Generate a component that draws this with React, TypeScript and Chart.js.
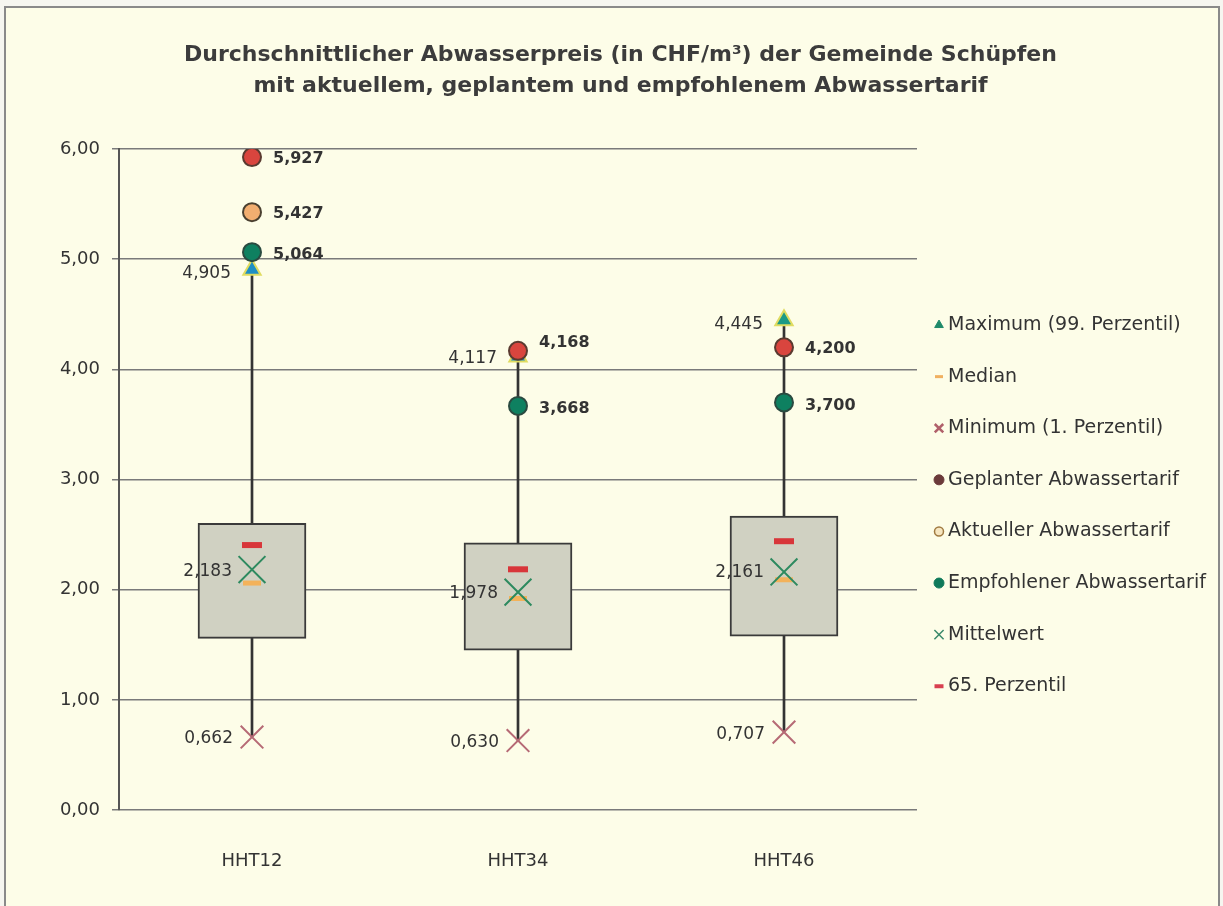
import React, { useEffect, useRef } from 'react';
import { Chart, registerables } from 'chart.js';
import { drawPoint } from 'chart.js/helpers';

Chart.register(...registerables);

// ---------- data ----------
const categories = ['HHT12', 'HHT34', 'HHT46'];
const boxLower = [1.558, 1.452, 1.579];
const boxUpper = [2.602, 2.426, 2.669];
const maximumValues = [4.905, 4.117, 4.445];
const minimumValues = [0.662, 0.63, 0.707];
const medianValues = [2.06, 1.92, 2.09];
const perzentil65Values = [2.405, 2.185, 2.44];
const mittelwertValues = [2.183, 1.978, 2.161];
const geplantValues = [5.927, 4.168, 4.2];
const aktuellValues: (number | null)[] = [5.427, null, null];
const empfohlenValues = [5.064, 3.668, 3.7];
const yMin = 0;
const yMax = 6;
const yStep = 1;
const titleLines = [
  'Durchschnittlicher Abwasserpreis (in CHF/m³) der Gemeinde Schüpfen',
  'mit aktuellem, geplantem und empfohlenem Abwassertarif',
];
const legendLabels = [
  'Maximum (99. Perzentil)',
  'Median',
  'Minimum (1. Perzentil)',
  'Geplanter Abwassertarif',
  'Aktueller Abwassertarif',
  'Empfohlener Abwassertarif',
  'Mittelwert',
  '65. Perzentil',
];

// ---------- styles ----------
const FONT = "'DejaVu Sans', sans-serif";
const TEXT = '#333333';
const fmt = (v: number, d: number) => v.toFixed(d).replace('.', ',');

const legendStyles = [
  { pointStyle: 'triangle', radius: 5, fill: '#1f8a6a', stroke: '#1f8a6a', lw: 1 },
  { pointStyle: 'line', radius: 4, fill: '#f0b060', stroke: '#f0b060', lw: 3 },
  { pointStyle: 'crossRot', radius: 6, fill: '#b0606a', stroke: '#b0606a', lw: 2.5 },
  { pointStyle: 'circle', radius: 5, fill: '#6b3a3a', stroke: '#6b3a3a', lw: 1 },
  { pointStyle: 'circle', radius: 4.5, fill: '#f6e6c0', stroke: '#a07a40', lw: 1.5 },
  { pointStyle: 'circle', radius: 5, fill: '#0f7a5a', stroke: '#0f7a5a', lw: 1 },
  { pointStyle: 'crossRot', radius: 6.5, fill: '#3a8a6a', stroke: '#3a8a6a', lw: 1.5 },
  { pointStyle: 'line', radius: 4.5, fill: '#d84050', stroke: '#d84050', lw: 4 },
];

const legendPlugin = {
  id: 'sideLegend',
  afterDraw(chart: any) {
    const { ctx, chartArea } = chart;
    const markerX = chartArea.right + 22;
    const textX = chartArea.right + 31;
    const firstY = chartArea.top + 176;
    const spacing = 51.6;
    ctx.save();
    legendLabels.forEach((label, i) => {
      const st = legendStyles[i];
      const y = firstY + i * spacing;
      ctx.fillStyle = st.fill;
      ctx.strokeStyle = st.stroke;
      ctx.lineWidth = st.lw;
      drawPoint(ctx, { pointStyle: st.pointStyle, radius: st.radius, rotation: 0, borderWidth: st.lw } as any, markerX, y);
      ctx.fillStyle = TEXT;
      ctx.font = `19px ${FONT}`;
      ctx.textAlign = 'left';
      ctx.textBaseline = 'middle';
      ctx.fillText(label, textX, y);
    });
    ctx.restore();
  },
};

const valueLabelPlugin = {
  id: 'valueLabels',
  afterDatasetsDraw(chart: any) {
    const { ctx } = chart;
    ctx.save();
    chart.data.datasets.forEach((ds: any, di: number) => {
      const cfg = ds.valueLabel;
      if (!cfg) return;
      const meta = chart.getDatasetMeta(di);
      meta.data.forEach((pt: any, j: number) => {
        const v = ds.data[j];
        if (v == null) return;
        ctx.font = cfg.bold ? `bold 16px ${FONT}` : `17px ${FONT}`;
        ctx.fillStyle = TEXT;
        ctx.textBaseline = 'middle';
        ctx.textAlign = cfg.side === 'left' ? 'right' : 'left';
        const x = pt.x + (cfg.side === 'left' ? -cfg.gap : cfg.gap);
        ctx.fillText(fmt(v, 3), x, pt.y + (cfg.dy[j] || 0));
      });
    });
    ctx.restore();
  },
};

function pointDataset(label: string, data: any[], style: any, order: number, valueLabel?: any) {
  return {
    type: 'line' as const,
    label,
    data,
    showLine: false,
    order,
    pointStyle: style.pointStyle,
    pointRadius: style.radius,
    pointHoverRadius: style.radius,
    pointBackgroundColor: style.fill,
    pointBorderColor: style.stroke,
    pointBorderWidth: style.lw,
    valueLabel,
  };
}

export default function App() {
  const canvasRef = useRef<HTMLCanvasElement | null>(null);

  useEffect(() => {
    if (!canvasRef.current) return;
    const chart = new Chart(canvasRef.current, {
      type: 'bar',
      data: {
        labels: categories,
        datasets: [
          {
            type: 'bar',
            label: 'whisker',
            data: categories.map((_, i) => [minimumValues[i], maximumValues[i]]) as any,
            backgroundColor: '#333333',
            borderWidth: 0,
            barThickness: 2,
            grouped: false,
            order: 20,
          } as any,
          {
            type: 'bar',
            label: 'box',
            data: categories.map((_, i) => [boxLower[i], boxUpper[i]]) as any,
            backgroundColor: '#d0d1c2',
            borderColor: '#3a3a3a',
            borderWidth: 2,
            borderSkipped: false,
            barThickness: 108,
            grouped: false,
            order: 19,
          } as any,
          pointDataset(legendLabels[1], medianValues, { pointStyle: 'line', radius: 9, fill: '#f3b25a', stroke: '#f3b25a', lw: 5 }, 9),
          pointDataset(legendLabels[7], perzentil65Values, { pointStyle: 'line', radius: 10, fill: '#d8363a', stroke: '#d8363a', lw: 6 }, 8),
          pointDataset(legendLabels[6], mittelwertValues, { pointStyle: 'crossRot', radius: 19, fill: '#2d8a5f', stroke: '#2d8a5f', lw: 2 }, 7,
            { side: 'left', bold: false, gap: 20, dy: [2, 1, 1] }),
          pointDataset(legendLabels[2], minimumValues, { pointStyle: 'crossRot', radius: 16, fill: '#b66a75', stroke: '#b66a75', lw: 2 }, 6,
            { side: 'left', bold: false, gap: 19, dy: [2, 2, 2] }),
          pointDataset(legendLabels[0], maximumValues, { pointStyle: 'triangle', radius: 10, fill: ['#1e8fc4', '#1e8fc4', '#1b9a86'], stroke: '#e0dc60', lw: 2 }, 5,
            { side: 'left', bold: false, gap: 21, dy: [4, 2, 4] }),
          pointDataset(legendLabels[5], empfohlenValues, { pointStyle: 'circle', radius: 9, fill: '#0e8060', stroke: '#2a4a40', lw: 2 }, 4,
            { side: 'right', bold: true, gap: 21, dy: [3, 3, 3] }),
          pointDataset(legendLabels[4], aktuellValues, { pointStyle: 'circle', radius: 9, fill: '#f2ae70', stroke: '#4a4030', lw: 2 }, 3,
            { side: 'right', bold: true, gap: 21, dy: [2, 2, 2] }),
          pointDataset(legendLabels[3], geplantValues, { pointStyle: 'circle', radius: 9, fill: '#d9453e', stroke: '#5a3a30', lw: 2 }, 2,
            { side: 'right', bold: true, gap: 21, dy: [2, -8, 2] }),
        ] as any,
      },
      options: {
        animation: false,
        responsive: false,
        maintainAspectRatio: false,
        events: [],
        layout: { padding: { left: 18, right: 0, top: 0, bottom: 0 } },
        plugins: {
          legend: { display: false },
          tooltip: { enabled: false },
          title: {
            display: true,
            text: titleLines,
            color: '#3c3c3c',
            font: { family: FONT, size: 22, weight: 'bold', lineHeight: 1.41 },
            padding: { top: 39.5, bottom: 47.5 },
          },
        },
        scales: {
          x: {
            type: 'category',
            offset: true,
            grid: { display: false, drawTicks: false },
            border: { display: false },
            ticks: { color: TEXT, font: { family: FONT, size: 18 }, padding: 41 },
            afterFit: (s: any) => { s.height = 96; },
          },
          y: {
            type: 'linear',
            min: yMin,
            max: yMax,
            ticks: {
              stepSize: yStep,
              color: TEXT,
              font: { family: FONT, size: 18 },
              padding: 12,
              callback: (v: any) => fmt(Number(v), 2),
            },
            grid: { color: '#7a7a7a', lineWidth: 1.5, tickLength: 7, tickColor: '#7a7a7a' },
            border: { display: true, color: '#555555', width: 2 },
            afterFit: (s: any) => { s.width = 101; },
          },
          yReserve: {
            type: 'linear',
            position: 'right',
            display: true,
            grid: { display: false, drawTicks: false },
            ticks: { display: false },
            border: { display: false },
            afterFit: (s: any) => { s.width = 306; },
          },
        },
      } as any,
      plugins: [valueLabelPlugin, legendPlugin],
    });
    return () => chart.destroy();
  }, []);

  return (
    <div style={{ position: 'fixed', left: 0, top: 0, width: 1223, height: 906, background: '#f6f6f0', overflow: 'hidden' }}>
      <div
        style={{
          position: 'absolute',
          left: 4,
          top: 6,
          width: 1216,
          height: 930,
          boxSizing: 'border-box',
          border: '2px solid #8a8a8a',
          background: '#fdfde8',
        }}
      />
      <canvas
        ref={canvasRef}
        width={1223}
        height={906}
        style={{ position: 'absolute', left: 0, top: 0, width: 1223, height: 906 }}
      />
    </div>
  );
}
